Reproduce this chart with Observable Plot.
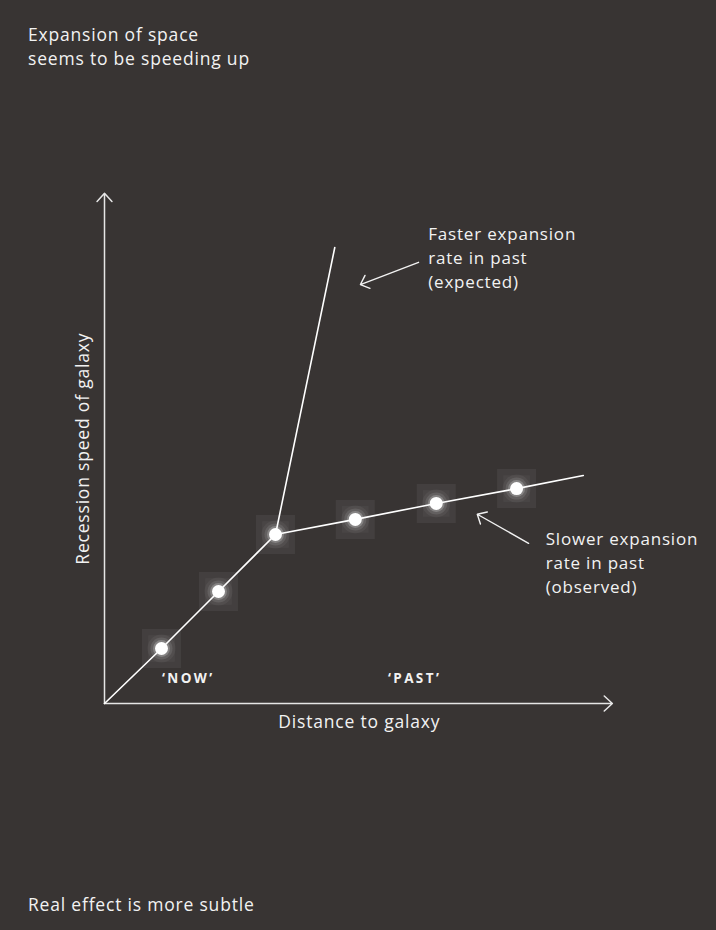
<!DOCTYPE html>
<html><head><meta charset="utf-8">
<script src="https://cdn.jsdelivr.net/npm/d3@7"></script>
<script src="https://cdn.jsdelivr.net/npm/@observablehq/plot@0.6"></script>
<style>
html,body{margin:0;padding:0;background:#383433;}
#wrap{position:relative;width:716px;height:930px;background:#383433;overflow:hidden;font-family:"Open Sans",Lato,sans-serif;color:#f2f2f2;}
#title{position:absolute;left:28px;top:22px;font-size:17.5px;line-height:24px;letter-spacing:0.8px;}
#caption{position:absolute;left:28px;top:892px;font-size:17.5px;line-height:24px;letter-spacing:0.8px;}
#chart{position:absolute;left:0;top:0;}
</style></head>
<body><div id="wrap"><div id="chart"></div>
<div id="title">Expansion of space<br>seems to be speeding up</div>
<div id="caption">Real effect is more subtle</div></div>
<script>
// galaxies (observed)
const distance = [1, 2, 3, 4.4, 5.82, 7.23];
const speed = [0.965, 1.965, 2.965, 3.23, 3.51, 3.77];
// observed trend: origin, galaxies, extension
const observedX = [0, 1, 2, 3, 4.4, 5.82, 7.23, 8.4];
const observedY = [0, 0.965, 1.965, 2.965, 3.23, 3.51, 3.77, 4.0];
// expected trend
const expectedX = [3, 4.04];
const expectedY = [2.965, 8.0];
// axes extent
const axisMax = {x: 8.91, y: 8.95};
// annotation labels
const labels = [
  {x: 5.68, y: 8.42, text: "Faster expansion\nrate in past\n(expected)"},
  {x: 7.74, y: 3.07, text: "Slower expansion\nrate in past\n(observed)"}
];
const eraLabels = [{x: 1.47, y: 0.43, text: "‘NOW’"}, {x: 5.44, y: 0.43, text: "‘PAST’"}];
const pointers = [
  {x1: 5.51, y1: 7.74, x2: 4.49, y2: 7.35},
  {x1: 7.44, y1: 2.81, x2: 6.54, y2: 3.32}
];

const pts = distance.map((d, i) => ({x: d, y: speed[i]}));
const obs = observedX.map((d, i) => ({x: d, y: observedY[i]}));
const exp = expectedX.map((d, i) => ({x: d, y: expectedY[i]}));
const fg = "#f2f2f2";
const font = "'Open Sans', Lato, sans-serif";

const plot = Plot.plot({
  width: 716, height: 930,
  margin: 0,
  style: {background: "transparent", color: fg, fontFamily: font, overflow: "visible"},
  x: {domain: [0, 9], range: [104, 617], axis: null},
  y: {domain: [0, 9], range: [703, 190], axis: null},
  marks: [
    // glow boxes
    Plot.dot(pts, {x: "x", y: "y", symbol: "square", r: 22, fill: "#ffffff", fillOpacity: 0.06}),
    Plot.dot(pts, {x: "x", y: "y", symbol: "square", r: 15, fill: "#ffffff", fillOpacity: 0.035}),
    // axes
    Plot.arrow([{x1: 0, y1: 0, x2: axisMax.x, y2: 0}, {x1: 0, y1: 0, x2: 0, y2: axisMax.y}],
      {x1: "x1", y1: "y1", x2: "x2", y2: "y2", stroke: "#e6e6e6", strokeWidth: 1.5, headLength: 11, headAngle: 85}),
    // trend lines
    Plot.line(exp, {x: "x", y: "y", stroke: "#ffffff", strokeWidth: 1.6}),
    Plot.line(obs, {x: "x", y: "y", stroke: "#ffffff", strokeWidth: 1.6}),
    // glowing points
    Plot.dot(pts, {x: "x", y: "y", r: 14, fill: "#ffffff", fillOpacity: 0.05}),
    Plot.dot(pts, {x: "x", y: "y", r: 11, fill: "#ffffff", fillOpacity: 0.1}),
    Plot.dot(pts, {x: "x", y: "y", r: 8.5, fill: "#ffffff", fillOpacity: 0.22}),
    Plot.dot(pts, {x: "x", y: "y", r: 6.5, fill: "#ffffff"}),
    // pointers
    Plot.arrow(pointers, {x1: "x1", y1: "y1", x2: "x2", y2: "y2", stroke: fg, strokeWidth: 1.4, headLength: 11, headAngle: 85}),
    // annotation text
    Plot.text(labels, {x: "x", y: "y", text: "text", textAnchor: "start", lineAnchor: "top", lineHeight: 1.39, fontSize: 17, fill: fg, fontFamily: font}),
    Plot.text(eraLabels, {x: "x", y: "y", text: "text", fontSize: 13.5, fontWeight: "bold", fill: fg, fontFamily: font}),
    Plot.text(["Distance to galaxy"], {x: 4.47, y: -0.33, text: d => d, fontSize: 17.5, fill: fg, fontFamily: font}),
    Plot.text(["Recession speed of galaxy"], {x: -0.37, y: 4.47, text: d => d, rotate: -90, fontSize: 17.5, fill: fg, fontFamily: font})
  ]
});
d3.select(plot).selectAll("text").each(function () {
  const era = this.textContent.startsWith("‘");
  this.setAttribute("letter-spacing", era ? "2.4" : "0.8");
  this.style.letterSpacing = era ? "2.4px" : "0.8px";
});
document.getElementById("chart").appendChild(plot);
</script></body></html>
